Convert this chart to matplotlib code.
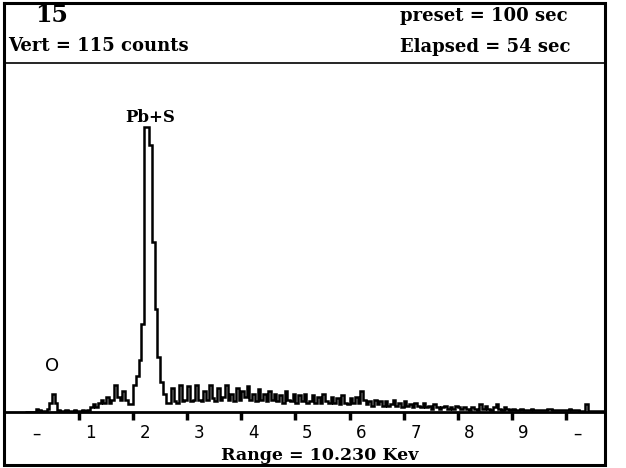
import numpy as np
import matplotlib
matplotlib.use("Agg")
import matplotlib.pyplot as plt

# ---- data ----
bin_width_kev = 0.05
start_kev = 0.0
counts = [
    0, 0, 0, 0, 1, 0.7, 0.3, 0.3, 1, 3,
    6, 3, 0.7, 0.3, 0.3, 0.7, 0.3, 0.3, 0.7, 0.3,
    0.3, 0.7, 0.3, 0.7, 1.5, 2.5, 1.5, 3, 4, 3,
    5, 3, 4, 9, 5, 4, 7, 4, 2.5, 2.5,
    9, 12, 17, 29, 94, 94, 88, 56, 34, 18,
    10, 6, 3, 3, 8, 3.5, 3, 9, 3.5, 4,
    8.5, 3.5, 4, 9, 4, 3.5, 7, 4, 9, 4.5,
    3.5, 8, 4, 5, 9, 4, 6, 3.5, 8, 4,
    7, 5, 8.5, 4, 6, 3.5, 7.5, 4, 6, 3.5,
    7, 4, 6, 3.5, 5.5, 3, 7, 4, 3.5, 6,
    3, 5.5, 3.5, 6, 3, 3.5, 5.5, 3, 5, 3,
    6, 3.5, 3, 5, 3, 4.5, 2.5, 5.5, 3, 2.5,
    4.5, 3, 5, 3, 7, 4, 2.5, 3.5, 2, 4,
    2.5, 3.5, 2, 3.5, 2, 2.5, 4, 2, 3, 1.5,
    3.5, 2, 2.5, 1.5, 3, 2, 1.5, 3, 1.5, 2,
    1, 2.5, 1.5, 1, 1.5, 2, 1, 1.5, 1, 2,
    1.5, 1, 1.5, 1, 0.7, 1.5, 1, 0.7, 2.5, 1,
    2, 1, 0.7, 1.5, 2.5, 1, 0.7, 1.5, 1, 0.7,
    1, 0.5, 0.5, 1, 0.5, 0.7, 0.5, 1, 0.5, 0.5,
    0.7, 0.5, 0.5, 1, 1, 0.5, 0.5, 0.5, 0.7, 0.5,
    0.5, 1, 0.5, 0.5, 0.5, 0.3, 0.3, 2.5, 0.3, 0.3,
    0.3, 0.3, 0.3, 0.3, 0.3,
]
tick_kev = [1, 2, 3, 4, 5, 6, 7, 8, 9, 10]
tick_labels = ["\u2013", "1", "2", "3", "4", "5", "6", "7", "8", "9", "\u2013"]
label_kev = [0, 1, 2, 3, 4, 5, 6, 7, 8, 9, 10]
full_scale = 115

W, H = 626, 468
fig = plt.figure(figsize=(W / 100, H / 100), dpi=100)
fig.patch.set_facecolor("white")

# pixel geometry
left_px, right_px, top_px, base_px = 5, 604, 63, 412
x0_px, px_per_kev = 24.9, 54.1

ax = fig.add_axes([left_px / W, (H - base_px) / H,
                   (right_px - left_px) / W, (base_px - top_px) / H])
ax.set_xlim((left_px - x0_px) / px_per_kev, (right_px - x0_px) / px_per_kev)
ax.set_ylim(0, full_scale)

edges = start_kev + bin_width_kev * np.arange(len(counts) + 1)
ax.stairs(counts, edges, color="black", linewidth=1.8, baseline=None)

for s in ["top", "left", "right"]:
    ax.spines[s].set_visible(False)
ax.spines["bottom"].set_linewidth(2.0)
ax.set_yticks([])
ax.set_xticks(tick_kev)
ax.set_xticklabels([])
ax.tick_params(axis="x", which="major", direction="out", length=6, width=2.5)
ax.set_xticks([k + 0.22 for k in label_kev], labels=tick_labels, minor=True)
ax.tick_params(axis="x", which="minor", length=0, pad=9, labelsize=12)
for t in ax.get_xticklabels(minor=True):
    t.set_fontfamily("DejaVu Sans")
ax.patch.set_alpha(0)

ax.text(2.31, 97, "Pb+S", ha="center", va="center", fontsize=12,
        family="DejaVu Serif", fontweight="bold")
ax.text(0.50, 15, "O", ha="center", va="center", fontsize=13,
        family="DejaVu Sans")

# frame / header overlay in pixel coords
ov = fig.add_axes([0, 0, 1, 1], zorder=-1)
ov.set_xlim(0, W)
ov.set_ylim(H, 0)
ov.axis("off")
ov.plot([4, 605, 605, 4, 4], [3, 3, 465, 465, 3], color="black", lw=2.2,
        solid_joinstyle="miter")
ov.plot([4, 605], [63, 63], color="black", lw=1.2)

ov.text(52, 15, "15", ha="center", va="center", fontsize=17,
        fontweight="bold", family="DejaVu Serif")
ov.text(8, 46, "Vert = 115 counts", ha="left", va="center", fontsize=13,
        family="DejaVu Serif", fontweight="bold")
ov.text(400, 16, "preset = 100 sec", ha="left", va="center", fontsize=13,
        family="DejaVu Serif", fontweight="bold")
ov.text(400, 47, "Elapsed = 54 sec", ha="left", va="center", fontsize=13,
        family="DejaVu Serif", fontweight="bold")
ov.text(320, 455, "Range = 10.230 Kev", ha="center", va="center",
        fontsize=12.5, family="DejaVu Serif", fontweight="bold")

fig.savefig("out.png", dpi=100)
